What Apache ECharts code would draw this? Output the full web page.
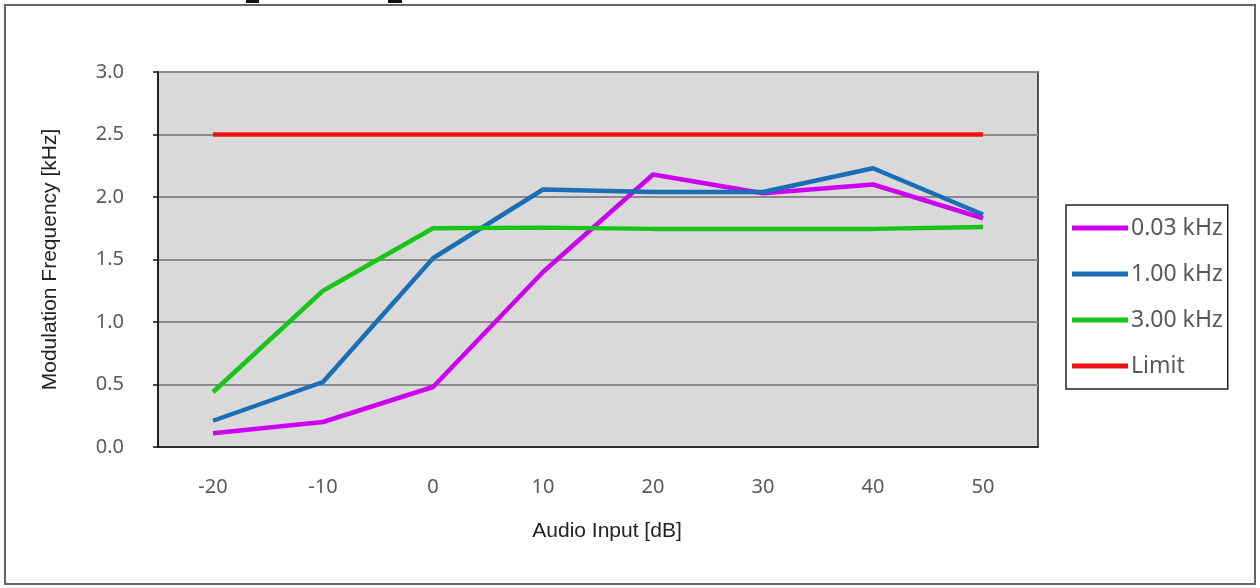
<!DOCTYPE html>
<html>
<head>
<meta charset="utf-8">
<script src="https://cdn.jsdelivr.net/npm/echarts@6/dist/echarts.min.js"></script>
<style>
html,body{margin:0;padding:0;background:#fff;}
#chart{width:1260px;height:588px;}
</style>
</head>
<body>
<div id="chart"></div>
<script>
var categories = ['-20', '-10', '0', '10', '20', '30', '40', '50'];
var s003 = [0.11, 0.20, 0.48, 1.40, 2.18, 2.03, 2.10, 1.83];
var s100 = [0.21, 0.52, 1.51, 2.06, 2.04, 2.04, 2.23, 1.86];
var s300 = [0.44, 1.25, 1.75, 1.755, 1.745, 1.745, 1.745, 1.76];
var limit = [2.5, 2.5, 2.5, 2.5, 2.5, 2.5, 2.5, 2.5];
var seriesNames = ['0.03 kHz', '1.00 kHz', '3.00 kHz', 'Limit'];
var colors = ['#cc00ee', '#1b6db5', '#18c418', '#ee1111'];

var chart = echarts.init(document.getElementById('chart'));
var labelFont = 'Noto Sans';
function mk(name, data, color) {
  return {
    name: name, type: 'line', data: data, symbol: 'none',
    lineStyle: { color: color, width: 4.5 }, itemStyle: { color: color },
    emphasis: { disabled: true }, animation: false
  };
}
chart.setOption({
  animation: false,
  graphic: [
    { type: 'rect', shape: { x: 5, y: 5, width: 1250, height: 579 }, style: { fill: 'none', stroke: '#666', lineWidth: 2 }, z: -10 },
    { type: 'rect', shape: { x: 246, y: 0, width: 13, height: 3 }, style: { fill: '#111' } },
    { type: 'rect', shape: { x: 388, y: 0, width: 14, height: 3 }, style: { fill: '#111' } }
  ],
  grid: {
    left: 158, right: 222, top: 72, bottom: 141,
    show: true, backgroundColor: '#d9d9d9', borderColor: '#222', borderWidth: 1.5
  },
  legend: {
    orient: 'vertical', left: 1066, top: 205,
    data: seriesNames,
    icon: 'rect', itemWidth: 56, itemHeight: 5, itemGap: 22,
    padding: [11, 5, 11, 6],
    borderColor: '#222', borderWidth: 1.5, backgroundColor: '#fff',
    textStyle: { color: '#595959', fontSize: 23, fontFamily: labelFont, lineHeight: 24, padding: [0, 0, 0, -2] }
  },
  xAxis: {
    type: 'category', data: categories, boundaryGap: true,
    axisLine: { lineStyle: { color: '#111', width: 1.5 } },
    axisTick: { inside: true, length: 9, lineStyle: { color: '#111', width: 2 } },
    axisLabel: { color: '#595959', fontSize: 20, fontFamily: labelFont, margin: 30 },
    name: 'Audio Input [dB]', nameLocation: 'middle', nameGap: 74,
    nameTextStyle: { color: '#222', fontSize: 21, fontFamily: 'Liberation Sans', padding: [0, 0, 0, 18] }
  },
  yAxis: {
    type: 'value', min: 0, max: 3, interval: 0.5,
    axisLine: { show: true, lineStyle: { color: '#111', width: 1.5 } },
    axisTick: { show: true, inside: false, length: 5, lineStyle: { color: '#111', width: 1.5 } },
    axisLabel: { color: '#595959', fontSize: 20, fontFamily: labelFont, margin: 34,
      formatter: function (v) { return v.toFixed(1); } },
    splitLine: { lineStyle: { color: '#8a8a8a', width: 2 } },
    name: 'Modulation Frequency [kHz]', nameLocation: 'middle', nameGap: 97,
    nameTextStyle: { color: '#222', fontSize: 21, fontFamily: 'Liberation Sans' }
  },
  series: [
    mk(seriesNames[0], s003, colors[0]),
    mk(seriesNames[1], s100, colors[1]),
    mk(seriesNames[2], s300, colors[2]),
    mk(seriesNames[3], limit, colors[3])
  ]
});
</script>
</body>
</html>
